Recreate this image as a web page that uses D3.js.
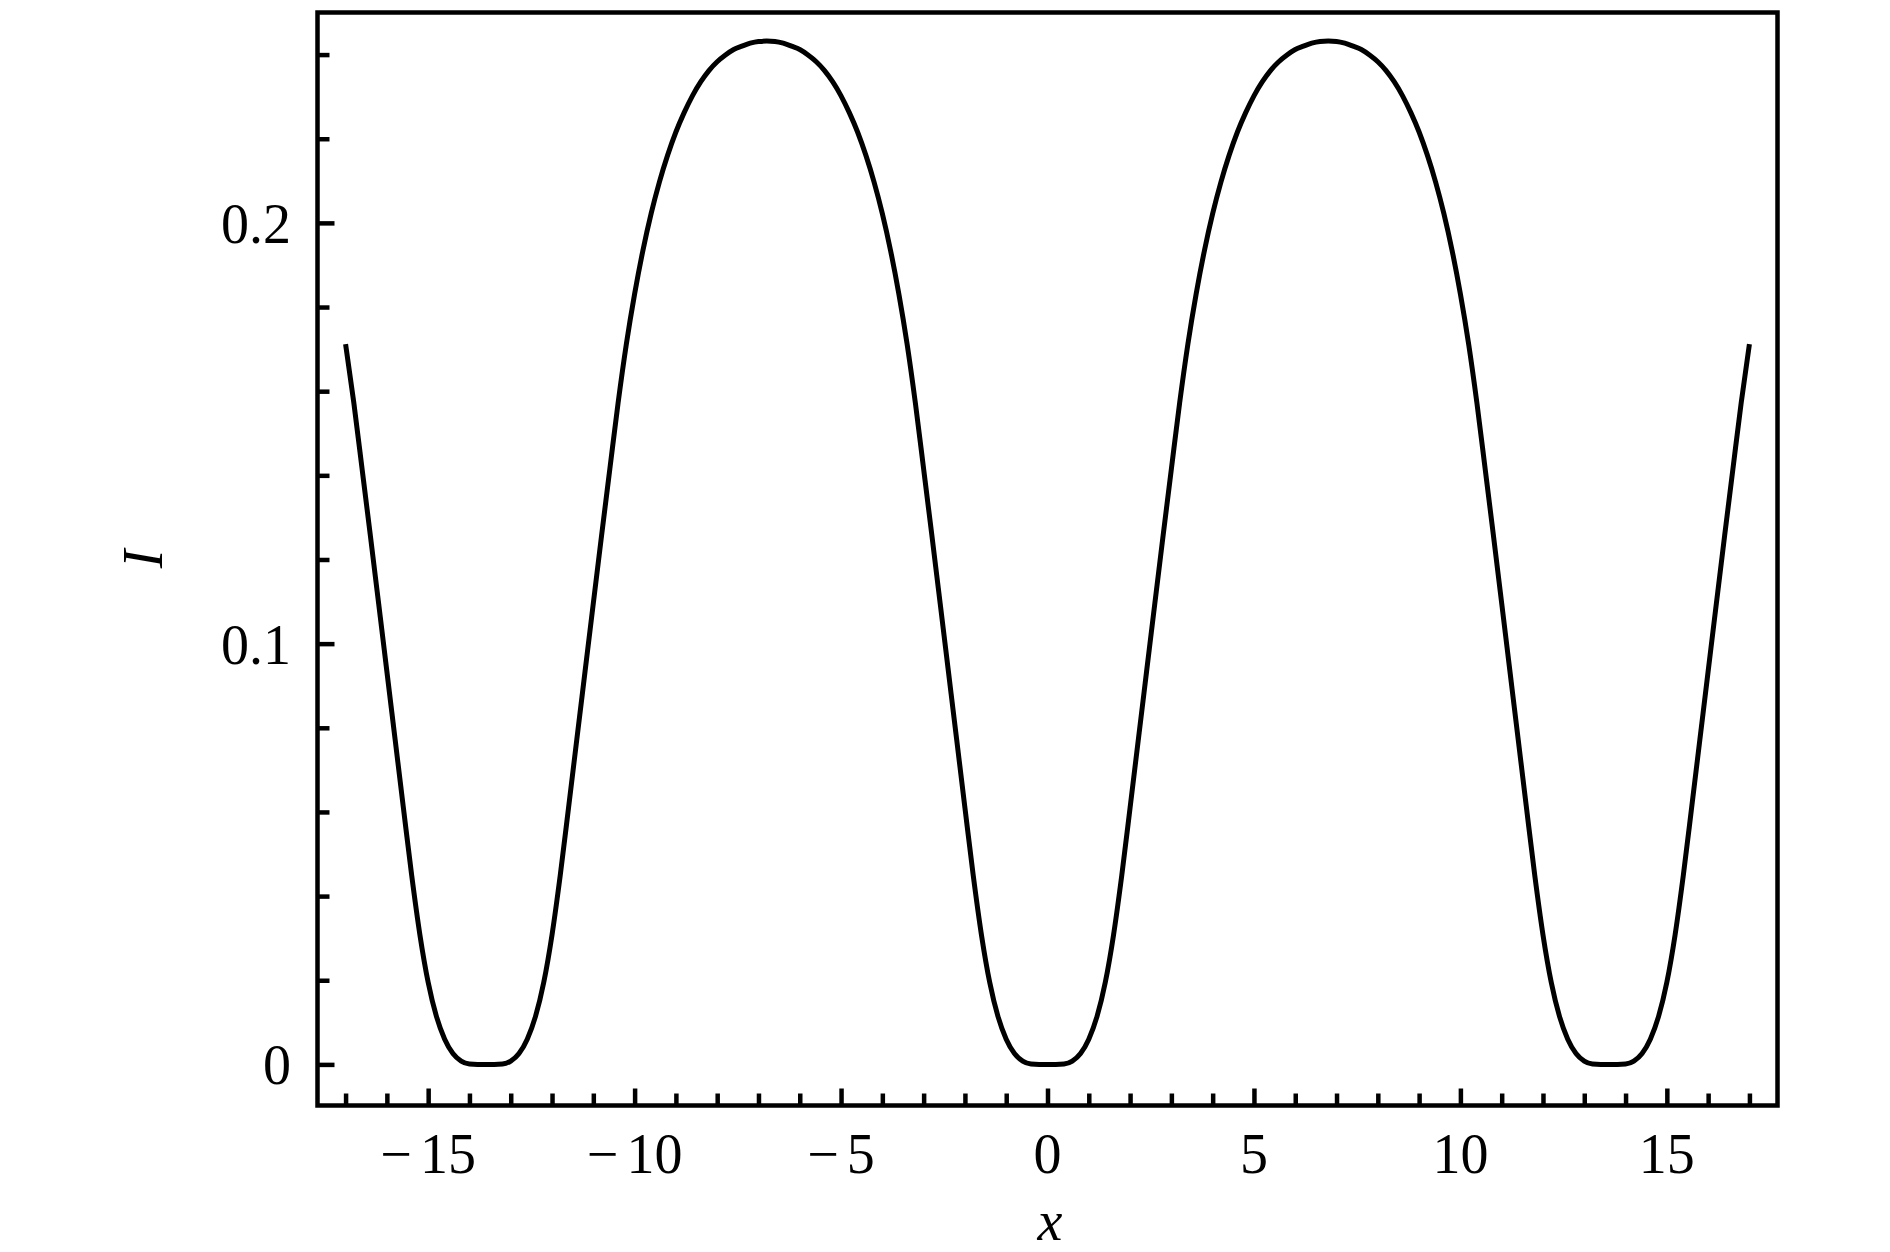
<!DOCTYPE html>
<html>
<head>
<meta charset="utf-8">
<script src="https://cdn.jsdelivr.net/npm/d3@7"></script>
<style>
  html, body { margin: 0; padding: 0; background: #ffffff; }
  svg { display: block; }
</style>
</head>
<body>
<script>
// ---- data ----
const xValues = [
  -17, -16.8, -16.6, -16.4, -16.2, -16, -15.8, -15.6, -15.4, -15.2,
  -15, -14.8, -14.6, -14.4, -14.2, -14, -13.8, -13.6, -13.4, -13.2,
  -13, -12.8, -12.6, -12.4, -12.2, -12, -11.8, -11.6, -11.4, -11.2,
  -11, -10.8, -10.6, -10.4, -10.2, -10, -9.8, -9.6, -9.4, -9.2,
  -9, -8.8, -8.6, -8.4, -8.2, -8, -7.8, -7.6, -7.4, -7.2,
  -7, -6.8, -6.6, -6.4, -6.2, -6, -5.8, -5.6, -5.4, -5.2,
  -5, -4.8, -4.6, -4.4, -4.2, -4, -3.8, -3.6, -3.4, -3.2,
  -3, -2.8, -2.6, -2.4, -2.2, -2, -1.8, -1.6, -1.4, -1.2,
  -1, -0.8, -0.6, -0.4, -0.2, 0,
  0.2, 0.4, 0.6, 0.8, 1, 1.2, 1.4, 1.6, 1.8, 2,
  2.2, 2.4, 2.6, 2.8, 3, 3.2, 3.4, 3.6, 3.8, 4,
  4.2, 4.4, 4.6, 4.8, 5, 5.2, 5.4, 5.6, 5.8, 6,
  6.2, 6.4, 6.6, 6.8, 7, 7.2, 7.4, 7.6, 7.8, 8,
  8.2, 8.4, 8.6, 8.8, 9, 9.2, 9.4, 9.6, 9.8, 10,
  10.2, 10.4, 10.6, 10.8, 11, 11.2, 11.4, 11.6, 11.8, 12,
  12.2, 12.4, 12.6, 12.8, 13, 13.2, 13.4, 13.6, 13.8, 14,
  14.2, 14.4, 14.6, 14.8, 15, 15.2, 15.4, 15.6, 15.8, 16,
  16.2, 16.4, 16.6, 16.8, 17
];
const iValues = [
  // x = -17 ... -13.8
  0.1712, 0.1572, 0.1415, 0.1257, 0.1096, 0.0934, 0.0772, 0.0610, 0.0450, 0.0308,
  0.0195, 0.0114, 0.0060, 0.0026, 0.0008, 0.0001, 0.0000,
  // x = -13.6 ... -7.0
  0.0000, 0.0000, 0.0001, 0.0008, 0.0026, 0.0060, 0.0114, 0.0195, 0.0308, 0.0450,
  0.0610, 0.0772, 0.0934, 0.1096, 0.1257, 0.1415, 0.1572, 0.1712, 0.1831, 0.1934,
  0.2022, 0.2097, 0.2161, 0.2216, 0.2262, 0.2302, 0.2335, 0.2362, 0.2383, 0.2399,
  0.2412, 0.2420, 0.2427, 0.2431,
  // x = -6.8
  0.2432,
  // x = -6.6 ... -0.2
  0.2431, 0.2427, 0.2420, 0.2412, 0.2399, 0.2383, 0.2362, 0.2335, 0.2302, 0.2262,
  0.2216, 0.2161, 0.2097, 0.2022, 0.1934, 0.1831, 0.1712, 0.1572, 0.1415, 0.1257,
  0.1096, 0.0934, 0.0772, 0.0610, 0.0450, 0.0308, 0.0195, 0.0114, 0.0060, 0.0026,
  0.0008, 0.0001, 0.0000,
  // x = 0
  0.0000,
  // x = 0.2 ... 6.6
  0.0000, 0.0001, 0.0008, 0.0026, 0.0060, 0.0114, 0.0195, 0.0308, 0.0450, 0.0610,
  0.0772, 0.0934, 0.1096, 0.1257, 0.1415, 0.1572, 0.1712, 0.1831, 0.1934, 0.2022,
  0.2097, 0.2161, 0.2216, 0.2262, 0.2302, 0.2335, 0.2362, 0.2383, 0.2399, 0.2412,
  0.2420, 0.2427, 0.2431,
  // x = 6.8
  0.2432,
  // x = 7.0 ... 13.6
  0.2431, 0.2427, 0.2420, 0.2412, 0.2399, 0.2383, 0.2362, 0.2335, 0.2302, 0.2262,
  0.2216, 0.2161, 0.2097, 0.2022, 0.1934, 0.1831, 0.1712, 0.1572, 0.1415, 0.1257,
  0.1096, 0.0934, 0.0772, 0.0610, 0.0450, 0.0308, 0.0195, 0.0114, 0.0060, 0.0026,
  0.0008, 0.0001, 0.0000, 0.0000,
  // x = 13.8 ... 17
  0.0000, 0.0001, 0.0008, 0.0026, 0.0060, 0.0114, 0.0195, 0.0308, 0.0450, 0.0610,
  0.0772, 0.0934, 0.1096, 0.1257, 0.1415, 0.1572, 0.1712
];
const xMajorTicks = [-15, -10, -5, 0, 5, 10, 15];
const xMajorLabels = ["\u221215", "\u221210", "\u22125", "0", "5", "10", "15"];
const xMinorTicks = [-17, -16, -14, -13, -12, -11, -9, -8, -7, -6, -4, -3, -2, -1,
                     1, 2, 3, 4, 6, 7, 8, 9, 11, 12, 13, 14, 16, 17];
const yMajorTicks = [0, 0.1, 0.2];
const yMajorLabels = ["0", "0.1", "0.2"];
const yMinorTicks = [0.02, 0.04, 0.06, 0.08, 0.12, 0.14, 0.16, 0.18, 0.22, 0.24];
const xLabel = "x";
const yLabel = "I";

if (xValues.length !== iValues.length) console.error("length mismatch", xValues.length, iValues.length);

// ---- layout ----
const W = 1890, H = 1252;
const L = 317.5, R = 1777.5, T = 12.5, B = 1105.5;
const FONT = "'Liberation Serif', 'DejaVu Serif', serif";
const FS = 56;
const LW = 4.5;

const svg = d3.select("body").append("svg")
  .attr("width", W).attr("height", H)
  .attr("viewBox", `0 0 ${W} ${H}`);
svg.append("rect").attr("width", W).attr("height", H).attr("fill", "#ffffff");

const x = d3.scaleLinear().domain([-17.68, 17.68]).range([L, R]);
const y = d3.scaleLinear().domain([-0.00977, 0.2500]).range([B, T]);

// curve
const n = Math.min(xValues.length, iValues.length);
const data = xValues.slice(0, n).map((v, i) => ({ x: v, y: iValues[i] }));
const line = d3.line().x(d => x(d.x)).y(d => y(d.y)).curve(d3.curveMonotoneX);
svg.append("path")
  .datum(data)
  .attr("d", line)
  .attr("fill", "none")
  .attr("stroke", "#000")
  .attr("stroke-width", 5)
  .attr("stroke-linejoin", "round")
  .attr("stroke-linecap", "butt");

// axes (inward ticks)
function styleAxis(g) {
  g.select(".domain").remove();
  g.selectAll(".tick line").attr("stroke", "#000").attr("stroke-width", LW);
  g.selectAll(".tick text").remove();
}
svg.append("g").attr("transform", `translate(0,${B})`)
  .call(d3.axisBottom(x).tickValues(xMinorTicks).tickSize(-12).tickFormat(""))
  .call(styleAxis);
svg.append("g").attr("transform", `translate(0,${B})`)
  .call(d3.axisBottom(x).tickValues(xMajorTicks).tickSize(-17).tickFormat(""))
  .call(styleAxis);
svg.append("g").attr("transform", `translate(${L},0)`)
  .call(d3.axisLeft(y).tickValues(yMinorTicks).tickSize(-12).tickFormat(""))
  .call(styleAxis);
svg.append("g").attr("transform", `translate(${L},0)`)
  .call(d3.axisLeft(y).tickValues(yMajorTicks).tickSize(-17).tickFormat(""))
  .call(styleAxis);

// frame
svg.append("rect")
  .attr("x", L).attr("y", T).attr("width", R - L).attr("height", B - T)
  .attr("fill", "none").attr("stroke", "#000").attr("stroke-width", LW);

// x tick labels
const xl = svg.append("g").attr("font-family", FONT).attr("font-size", FS).attr("fill", "#000");
xMajorTicks.forEach((v, i) => {
  const lab = xMajorLabels[i];
  const t = xl.append("text").attr("x", x(v)).attr("y", 1173).attr("text-anchor", "middle");
  if (lab.startsWith("\u2212")) {
    t.append("tspan").text("\u2212");
    t.append("tspan").attr("dx", 8).text(lab.slice(1));
  } else {
    t.text(lab);
  }
});

// y tick labels
yMajorTicks.forEach((v, i) => {
  xl.append("text").attr("x", 291).attr("y", y(v) + 20)
    .attr("text-anchor", "end").text(yMajorLabels[i]);
});

// axis labels
svg.append("text")
  .attr("x", 1050).attr("y", 1240)
  .attr("text-anchor", "middle")
  .attr("font-family", FONT).attr("font-size", FS).attr("font-style", "italic")
  .text(xLabel);
svg.append("text")
  .attr("transform", `translate(162,${(T + B) / 2}) rotate(-90)`)
  .attr("text-anchor", "middle")
  .attr("font-family", FONT).attr("font-size", FS).attr("font-style", "italic")
  .text(yLabel);
</script>
</body>
</html>
